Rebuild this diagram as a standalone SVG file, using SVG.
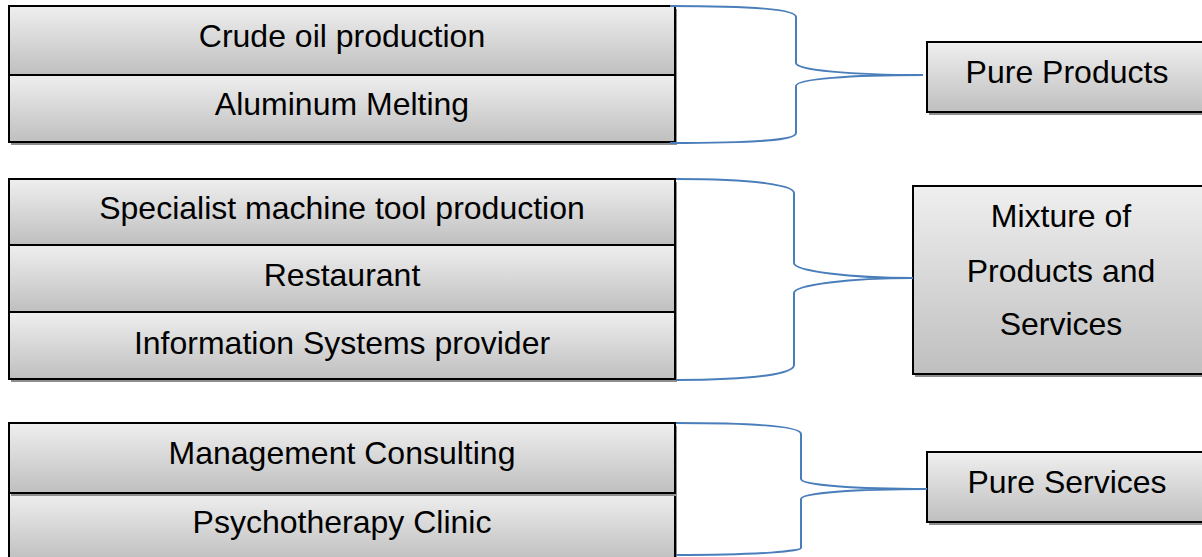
<svg xmlns="http://www.w3.org/2000/svg" width="1202" height="557" viewBox="0 0 1202 557">
  <defs>
    <linearGradient id="boxFill" x1="0" y1="0" x2="0" y2="1">
      <stop offset="0" stop-color="#efefef"/>
      <stop offset="1" stop-color="#bfbfbf"/>
    </linearGradient>
  </defs>
  <style>
    .shadow { fill: #8e8e8e; }
    .box { fill: url(#boxFill); stroke: #000; stroke-width: 2; }
    .label { font-family: "Liberation Sans", Arial, sans-serif; font-size: 32px; fill: #000; text-anchor: middle; }
    .brace { fill: none; stroke: #4a7ebb; stroke-width: 2; }
  </style>

  <!-- Group 1: pure products -->
  <g id="crude-oil">
    <rect class="shadow" x="11" y="9" width="666" height="69"/>
    <rect class="box" x="9" y="6" width="666" height="69"/>
    <text class="label" x="342" y="47">Crude oil production</text>
  </g>
  <g id="aluminum">
    <rect class="shadow" x="11" y="78" width="666" height="67"/>
    <rect class="box" x="9" y="75" width="666" height="67"/>
    <text class="label" x="342" y="115">Aluminum Melting</text>
  </g>

  <!-- Group 2: mixture -->
  <g id="machine-tool">
    <rect class="shadow" x="11" y="182" width="666" height="66"/>
    <rect class="box" x="9" y="179" width="666" height="66"/>
    <text class="label" x="342" y="219">Specialist machine tool production</text>
  </g>
  <g id="restaurant">
    <rect class="shadow" x="11" y="248" width="666" height="67"/>
    <rect class="box" x="9" y="245" width="666" height="67"/>
    <text class="label" x="342" y="286">Restaurant</text>
  </g>
  <g id="info-systems">
    <rect class="shadow" x="11" y="315" width="666" height="67"/>
    <rect class="box" x="9" y="312" width="666" height="67"/>
    <text class="label" x="342" y="354">Information Systems provider</text>
  </g>

  <!-- Group 3: pure services (lower row drawn first so the upper shadow shows) -->
  <g id="psychotherapy">
    <rect class="shadow" x="11" y="496" width="666" height="68"/>
    <rect class="box" x="9" y="493" width="666" height="68"/>
    <text class="label" x="342" y="533">Psychotherapy Clinic</text>
  </g>
  <g id="consulting">
    <rect class="shadow" x="11" y="426" width="666" height="70"/>
    <rect class="box" x="9" y="423" width="666" height="70"/>
    <text class="label" x="342" y="464">Management Consulting</text>
  </g>

  <!-- Category boxes -->
  <g id="pure-products">
    <rect class="shadow" x="929" y="45" width="280" height="70"/>
    <rect class="box" x="927" y="42" width="280" height="70"/>
    <text class="label" x="1067" y="83">Pure Products</text>
  </g>
  <g id="mixture">
    <rect class="shadow" x="915" y="189" width="296" height="188"/>
    <rect class="box" x="913" y="186" width="296" height="188"/>
    <text class="label" x="1061" y="227">Mixture of</text>
    <text class="label" x="1061" y="282">Products and</text>
    <text class="label" x="1061" y="335">Services</text>
  </g>
  <g id="pure-services">
    <rect class="shadow" x="929" y="455" width="280" height="70"/>
    <rect class="box" x="927" y="452" width="280" height="70"/>
    <text class="label" x="1067" y="493">Pure Services</text>
  </g>

  <!-- Braces joining each group to its category -->
  <g id="connectors">
    <path class="brace" d="M670,6 C760,6 796,10 796,17 L796,63 C796,70 850,75 923,75 C850,75 796,79 796,86 L796,133 C796,140 760,143 670,143"/>
    <path class="brace" d="M676,179 C760,179 794,186 794,193 L794,263 C794,271 850,278 913,278 C850,278 794,285 794,293 L794,365 C794,373 760,380 676,380"/>
    <path class="brace" d="M676,423 C762,423 801,427 801,434 L801,479 C801,485 855,489 927,489 C855,489 801,493 801,499 L801,548 C801,551 762,555 676,555"/>
  </g>
</svg>
